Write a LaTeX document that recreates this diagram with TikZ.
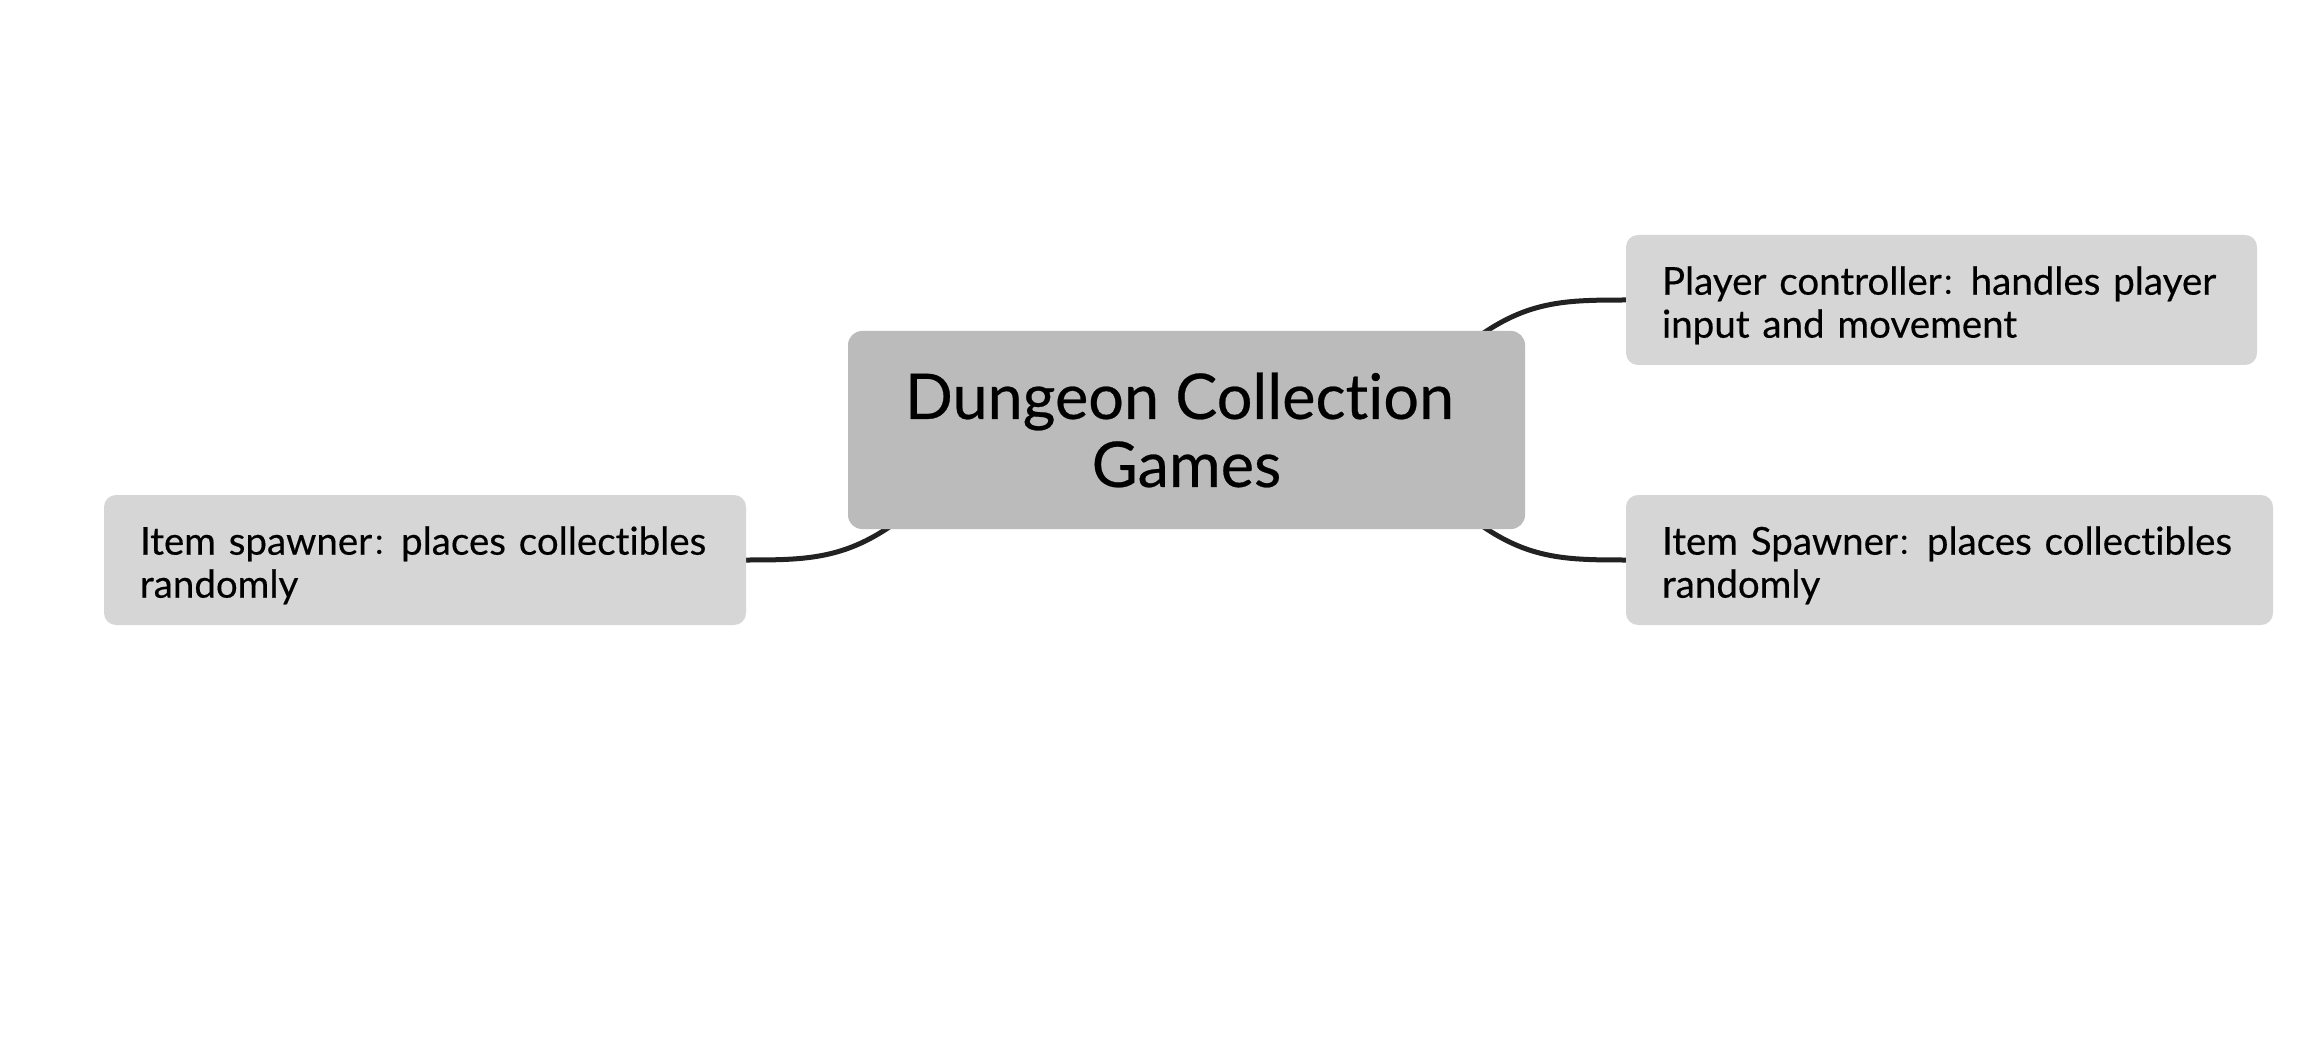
\documentclass[tikz,border=0pt]{standalone}
\usepackage{fontspec}
\setmainfont{Lato}[Ligatures={NoCommon,NoRare}, FakeBold=0.4]
\newfontfamily\cjk{Noto Sans CJK SC}
\usetikzlibrary{calc,backgrounds}
\definecolor{rootfill}{HTML}{BBBBBB}
\definecolor{subfill}{HTML}{D6D6D6}
\definecolor{linecol}{HTML}{222222}
\newcommand{\fcolon}{{\cjk\fontsize{29}{29}\selectfont ：}}
\begin{document}
\begin{tikzpicture}[x=1pt,y=-1pt,
  rootbox/.style={fill=rootfill, rounded corners=14pt, minimum width=677pt, minimum height=198pt, align=center, font=\fontsize{63}{68}\selectfont, inner sep=0pt},
  subbox/.style={fill=subfill, rounded corners=12pt, minimum height=130pt, align=left, font=\fontsize{38.5}{43}\selectfont, inner ysep=0pt, inner xsep=36pt, text depth=39pt},
  conn/.style={draw=linecol, line width=5pt}]
\useasboundingbox (0,0) rectangle (2316,1048);
\node[rootbox] (root) at (1186.5,430) {Dungeon Collection\hbox to 14pt{}\\Games};
\node[subbox, text width=559pt] (pc) at (1941.5,300) {Player controller\fcolon handles player\\input and movement};
\node[subbox, text width=575pt] (is) at (1949.5,560) {Item Spawner\fcolon places collectibles\\randomly};
\node[subbox, text width=570pt] (ls) at (425,560) {Item spawner\fcolon places collectibles\\randomly};
\begin{pgfonlayer}{background}
\fill[white] (0,0) rectangle (2316,1048);
\draw[conn] ($(root.north east)+(-65,20)$) .. controls +(60,-50) and +(-66,0) .. (pc.west);
\draw[conn] ($(root.south east)+(-65,-20)$) .. controls +(60,50) and +(-66,0) .. (is.west);
\draw[conn] ($(root.south west)+(65,-20)$) .. controls +(-60,50) and +(66,0) .. (ls.east);
\end{pgfonlayer}
\end{tikzpicture}
\end{document}
